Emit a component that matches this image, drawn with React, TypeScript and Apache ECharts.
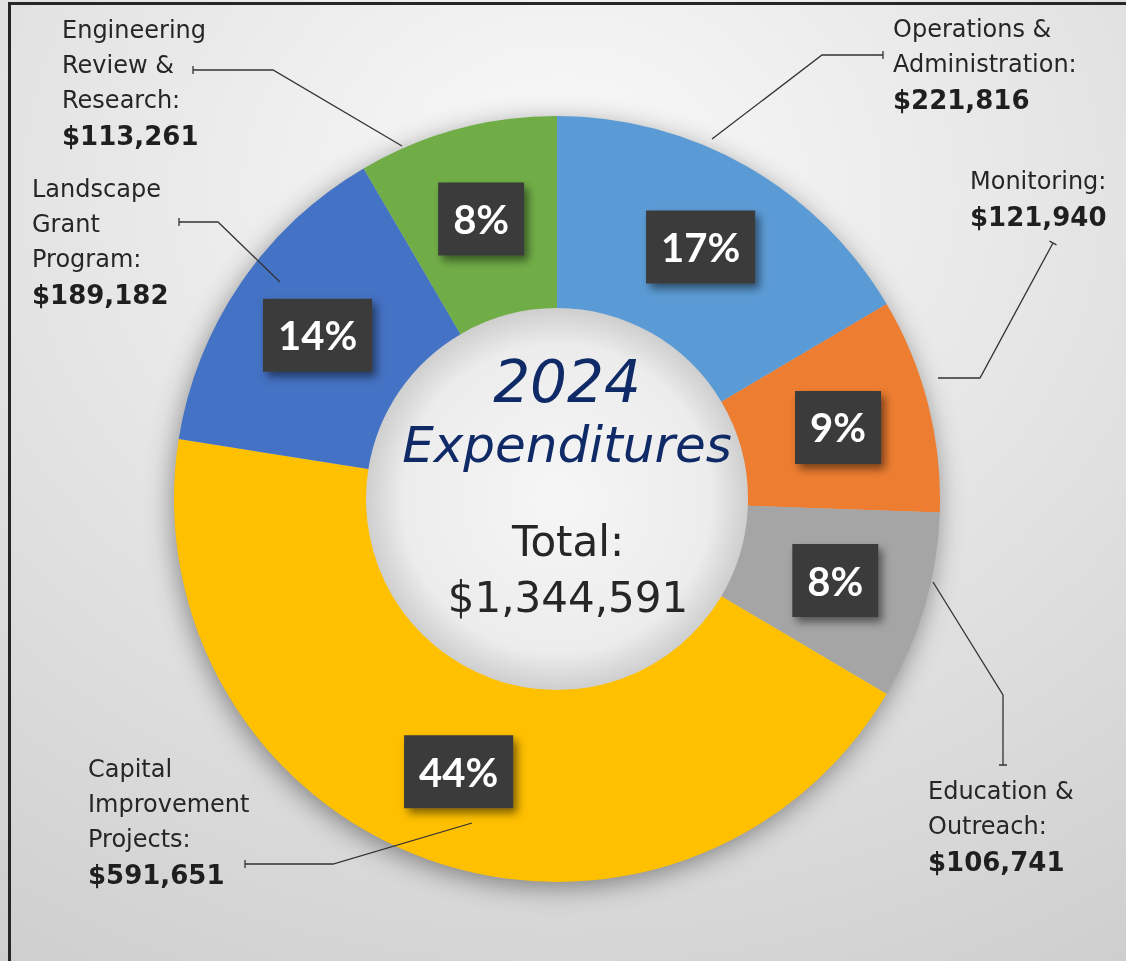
import React, { useEffect, useRef } from "react";
import * as echarts from "echarts";

// ---- data ----
const categories = [
  "Operations &\nAdministration:",
  "Monitoring:",
  "Education &\nOutreach:",
  "Capital\nImprovement\nProjects:",
  "Landscape\nGrant\nProgram:",
  "Engineering\nReview &\nResearch:",
];
const values = [221816, 121940, 106741, 591651, 189182, 113261];
const colors = ["#5B9BD5", "#ED7D31", "#A5A5A5", "#FFC000", "#4472C4", "#70AD47"];
const titleLines = ["2024", "Expenditures"];
const totalLabel = "Total:";

// ---- layout / style (positions only) ----
const CX = 557;
const CY = 499;
const R_IN = 191;
const R_OUT = 383;

const labelPlacement: { x: number; y: number; line: number[][] }[] = [
  { x: 893, y: 11, line: [[712, 139], [822, 55], [883, 55], [883, 51], [883, 59]] },
  { x: 970, y: 163, line: [[938, 378], [980, 378], [1053, 243], [1049.5, 241.1], [1056.5, 244.9]] },
  { x: 928, y: 773, line: [[933, 582], [1003, 695], [1003, 765], [999, 765], [1007, 765]] },
  { x: 88, y: 751, line: [[472, 823], [333, 864], [245, 864], [245, 860], [245, 868]] },
  { x: 32, y: 171, line: [[280, 282], [218, 222], [179, 222], [179, 218], [179, 226]] },
  { x: 62, y: 12, line: [[402, 146], [273, 70], [193, 70], [193, 66], [193, 74]] },
];

const fmt = (v: number) => "$" + v.toLocaleString("en-US");

export default function App() {
  const ref = useRef<HTMLDivElement>(null);

  useEffect(() => {
    if (!ref.current) return;
    const chart = echarts.init(ref.current, undefined, { renderer: "svg" });
    const total = values.reduce((a, b) => a + b, 0);
    const data = categories.map((name, i) => ({
      name,
      value: values[i],
      itemStyle: { color: colors[i] },
    }));

    const titleStyle = {
      fontStyle: "italic",
      fontFamily: "DejaVu Sans",
      fill: "#0f2a66",
      align: "center",
      verticalAlign: "middle",
    };
    const totalStyle = {
      fontSize: 42,
      fontFamily: "DejaVu Sans",
      fill: "#262626",
      align: "center",
      verticalAlign: "middle",
    };

    const option: any = {
      animation: false,
      graphic: [
        {
          type: "rect",
          z: -20,
          silent: true,
          shape: { x: 0, y: 0, width: 1126, height: 961 },
          style: {
            fill: {
              type: "radial",
              x: 0.5,
              y: 0.2,
              r: 0.95,
              colorStops: [
                { offset: 0, color: "#fafafa" },
                { offset: 1, color: "#cecece" },
              ],
            },
          },
        },
        {
          type: "rect",
          z: -19,
          silent: true,
          shape: { x: 9.5, y: 3.5, width: 1200, height: 1100 },
          style: { fill: "none", stroke: "#262626", lineWidth: 3 },
        },
        {
          type: "circle",
          z: -18,
          silent: true,
          shape: { cx: CX, cy: CY, r: R_OUT - 2 },
          style: {
            fill: "#bdbdbd",
            shadowBlur: 28,
            shadowOffsetX: -2,
            shadowOffsetY: 6,
            shadowColor: "rgba(0,0,0,0.45)",
          },
        },
        {
          type: "circle",
          z: -17,
          silent: true,
          shape: { cx: CX, cy: CY, r: R_IN + 2 },
          style: {
            fill: {
              type: "radial",
              x: 0.5,
              y: 0.5,
              r: 0.5,
              colorStops: [
                { offset: 0, color: "#f6f6f6" },
                { offset: 0.8, color: "#ececec" },
                { offset: 1, color: "#cdcdcd" },
              ],
            },
          },
        },
        {
          type: "text",
          z: 50,
          silent: true,
          x: 567,
          y: 382,
          style: { ...titleStyle, text: titleLines[0], fontSize: 58 },
        },
        {
          type: "text",
          z: 50,
          silent: true,
          x: 567,
          y: 445,
          style: { ...titleStyle, text: titleLines[1], fontSize: 50 },
        },
        {
          type: "text",
          z: 50,
          silent: true,
          x: 568,
          y: 541,
          style: { ...totalStyle, text: totalLabel },
        },
        {
          type: "text",
          z: 50,
          silent: true,
          x: 568,
          y: 597,
          style: { ...totalStyle, text: fmt(total) },
        },
      ],
      series: [
        {
          type: "pie",
          center: [CX, CY],
          radius: [R_IN, R_OUT],
          startAngle: 90,
          clockwise: true,
          silent: true,
          data,
          label: {
            show: true,
            position: "inside",
            formatter: (p: any) => `${Math.round(p.percent)}%`,
            fontFamily: "Lato",
            fontWeight: "bold",
            fontSize: 40,
            color: "#ffffff",
            backgroundColor: "#3a3a3a",
            padding: [17, 15, 16, 15],
            shadowBlur: 8,
            shadowOffsetX: 4,
            shadowOffsetY: 5,
            shadowColor: "rgba(0,0,0,0.5)",
          },
          labelLine: { show: false },
        },
        {
          type: "pie",
          center: [CX, CY],
          radius: [R_IN, R_OUT],
          startAngle: 90,
          clockwise: true,
          silent: true,
          z: 5,
          data: data.map((d) => ({ ...d, itemStyle: { color: "rgba(0,0,0,0)" } })),
          label: {
            show: true,
            position: "outside",
            overflow: "none",
            edgeDistance: 0,
            bleedMargin: 0,
            formatter: (p: any) =>
              p.name
                .split("\n")
                .map((l: string) => `{n|${l}}`)
                .join("\n") + `\n{v|${fmt(p.value)}}`,
            rich: {
              n: {
                fontFamily: "DejaVu Sans",
                fontSize: 24,
                color: "#262626",
                lineHeight: 35,
              },
              v: {
                fontFamily: "DejaVu Sans",
                fontWeight: "bold",
                fontSize: 26,
                color: "#1f1f1f",
                lineHeight: 38,
              },
            },
          },
          labelLine: {
            show: true,
            lineStyle: { color: "#333333", width: 1.3 },
          },
          labelLayout: (params: any) => {
            const L = labelPlacement[params.dataIndex];
            return {
              x: L.x,
              y: L.y,
              align: "left",
              verticalAlign: "top",
              labelLinePoints: L.line,
            };
          },
        },
      ],
    };
    chart.setOption(option);
    return () => chart.dispose();
  }, []);

  return (
    <div
      ref={ref}
      style={{ position: "fixed", left: 0, top: 0, width: 1126, height: 961 }}
    />
  );
}
